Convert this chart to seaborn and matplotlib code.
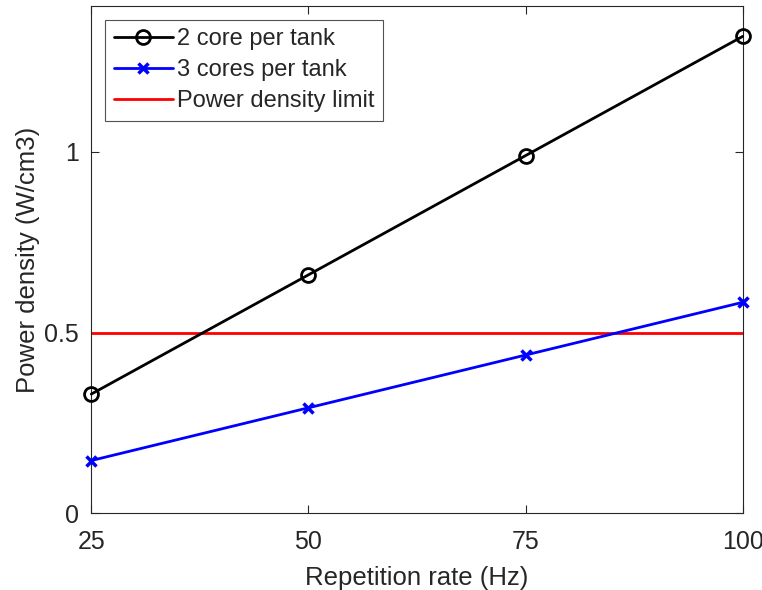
import numpy as np
import pandas as pd
import matplotlib
matplotlib.use("Agg")
import matplotlib.pyplot as plt
import seaborn as sns

rep_rate = [25, 50, 75, 100]
two_core = [0.33, 0.66, 0.99, 1.32]
three_core = [0.146, 0.292, 0.438, 0.584]
density_limit = 0.5

sns.set_style("ticks")
plt.rcParams["font.family"] = ["Liberation Sans", "DejaVu Sans"]

fig = plt.figure(figsize=(7.62, 5.9), dpi=100)
ax = fig.add_axes([0.1198, 0.130, 0.8549, 0.8598])

df2 = pd.DataFrame({"rate": rep_rate, "density": two_core})
df3 = pd.DataFrame({"rate": rep_rate, "density": three_core})

sns.lineplot(data=df2, x="rate", y="density", ax=ax, color="black", lw=2,
             marker="o", markersize=10, markerfacecolor="none",
             markeredgecolor="black", markeredgewidth=2, label="2 core per tank",
             clip_on=False, zorder=3)
sns.lineplot(data=df3, x="rate", y="density", ax=ax, color="blue", lw=2,
             marker="x", markersize=7, markeredgewidth=2.5,
             markeredgecolor="blue", label="3 cores per tank",
             clip_on=False, zorder=3)
ax.axhline(density_limit, color="red", lw=2, label="Power density limit")

ax.set_xlim(25, 100)
ax.set_ylim(0, 1.404)
ax.set_xticks(rep_rate)
ax.set_yticks([0, 0.5, 1])
ax.set_yticklabels(["0", "0.5", "1"])
ax.set_xlabel("Repetition rate (Hz)", fontsize=18.5, color="#262626", labelpad=9)
ax.set_ylabel("Power density (W/cm3)", fontsize=18.5, color="#262626", labelpad=3)

ax.tick_params(direction="in", top=True, right=True, labelsize=18,
               colors="#262626", length=6, width=0.8)
ax.tick_params(axis="x", pad=12)
ax.tick_params(axis="y", pad=9)
for sp in ax.spines.values():
    sp.set_visible(True)
    sp.set_color("#262626")
    sp.set_linewidth(0.8)

leg = ax.legend(loc="upper left", fontsize=17, frameon=True, fancybox=False,
                edgecolor="#262626", handlelength=2.5, borderpad=0.35,
                labelspacing=0.38, handletextpad=0.2, borderaxespad=0.6)
leg.get_frame().set_linewidth(0.8)

fig.savefig("out.png", dpi=100)
